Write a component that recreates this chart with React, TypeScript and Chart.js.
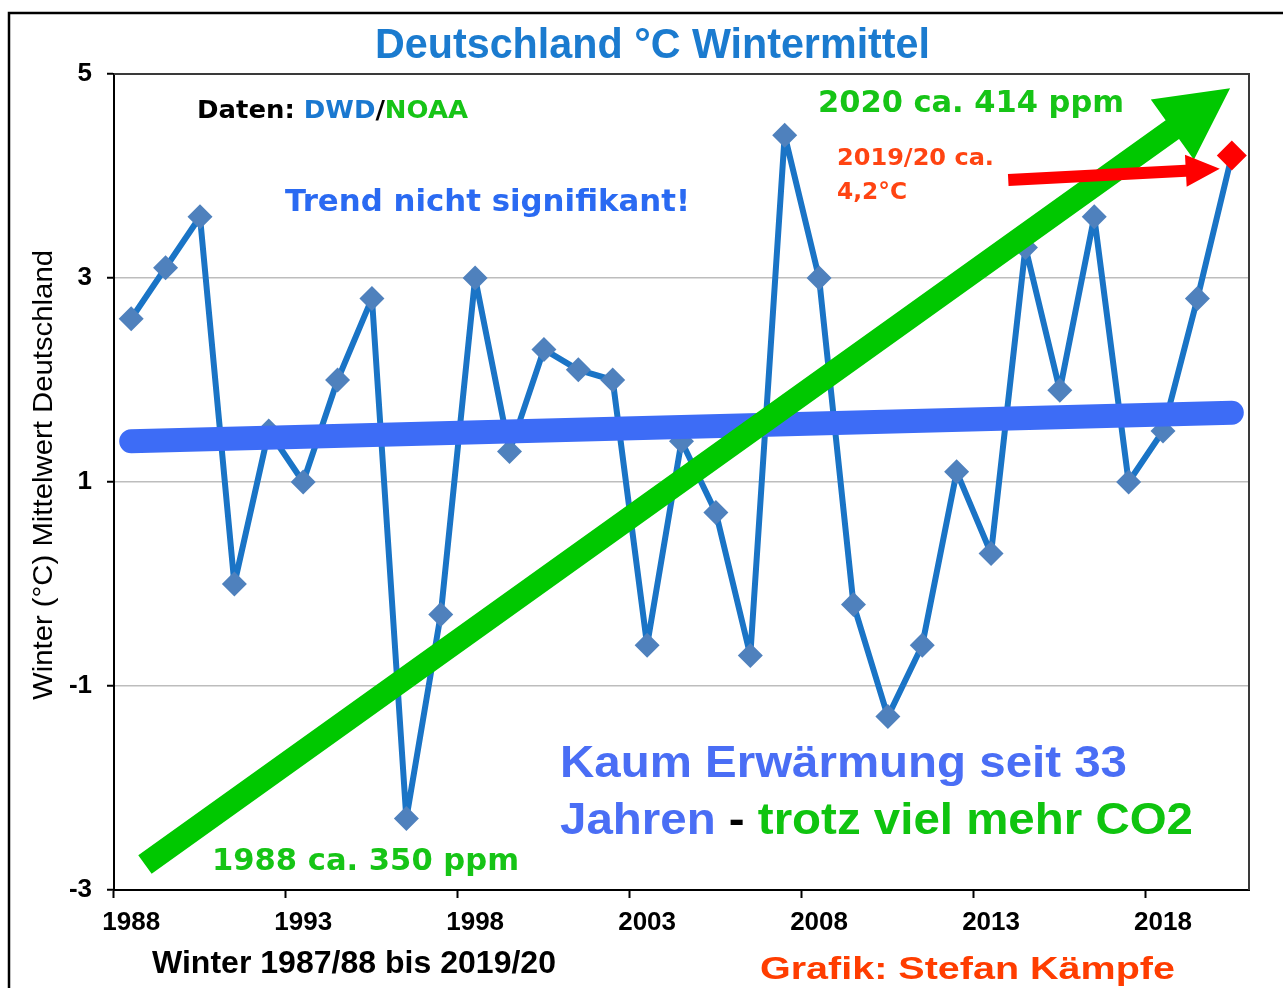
import React, { useEffect, useRef } from 'react';
import { Chart, registerables } from 'chart.js';

Chart.register(...registerables);

// ---------- data ----------
const years = [
  '1988', '1989', '1990', '1991', '1992', '1993', '1994', '1995', '1996', '1997',
  '1998', '1999', '2000', '2001', '2002', '2003', '2004', '2005', '2006', '2007',
  '2008', '2009', '2010', '2011', '2012', '2013', '2014', '2015', '2016', '2017',
  '2018', '2019', '2020',
];
const winterTemps = [
  2.6, 3.1, 3.6, 0.0, 1.5, 1.0, 2.0, 2.8, -2.3, -0.3,
  3.0, 1.3, 2.3, 2.1, 2.0, -0.6, 1.4, 0.7, -0.7, 4.4,
  3.0, -0.2, -1.3, -0.6, 1.1, 0.3, 3.3, 1.9, 3.6, 1.0,
  1.5, 2.8, 4.2,
];
const trendValues = [1.4, 1.68]; // linear trend at first and last winter
const yMin = -3;
const yMax = 5;
const yStep = 2;
const labelEvery = 5;

// annotation arrows in (category index, °C)
const co2Arrow = { from: [0.4, -2.75], to: [31.95, 4.86] };
const lastWinterArrow = { from: [25.5, 3.96], to: [31.65, 4.07] };

const FONT_WIDE = "'DejaVu Sans', 'Liberation Sans', Arial, sans-serif";
const FONT_ARIAL = "'Liberation Sans', Arial, sans-serif";

type Seg = [string, string];
type TextSpec = {
  segs: Seg[];
  x: number;
  y: number;
  w: number;
  font: string;
  rot?: boolean;
};

const BLUE_TITLE = '#1b7bcf';
const GREEN = '#16c416';
const ORANGE = '#ff4412';

const texts: TextSpec[] = [
  { segs: [['Deutschland °C Wintermittel', BLUE_TITLE]], x: 375, y: 58, w: 555, font: `bold 43px ${FONT_ARIAL}` },
  {
    segs: [['Daten: ', '#000'], ['DWD', '#1a78d0'], ['/', '#000'], ['NOAA', GREEN]],
    x: 197, y: 118, w: 271, font: `bold 25px ${FONT_WIDE}`,
  },
  { segs: [['Trend nicht signifikant!', '#2a6af2']], x: 285, y: 211, w: 405, font: `bold 30px ${FONT_WIDE}` },
  { segs: [['2020 ca. 414 ppm', GREEN]], x: 818, y: 112, w: 306, font: `bold 30px ${FONT_WIDE}` },
  { segs: [['2019/20 ca.', ORANGE]], x: 837, y: 165, w: 157, font: `bold 23px ${FONT_WIDE}` },
  { segs: [['4,2°C', ORANGE]], x: 837, y: 199, w: 70, font: `bold 23px ${FONT_WIDE}` },
  { segs: [['Kaum Erwärmung seit 33', '#4a6ef5']], x: 560, y: 777, w: 567, font: `bold 45px ${FONT_ARIAL}` },
  {
    segs: [['Jahren ', '#4a6ef5'], ['-', '#000'], [' trotz viel mehr CO2', '#0fc40f']],
    x: 560, y: 834, w: 633, font: `bold 45px ${FONT_ARIAL}`,
  },
  { segs: [['1988 ca. 350 ppm', GREEN]], x: 212, y: 870, w: 307, font: `bold 30px ${FONT_WIDE}` },
  { segs: [['Winter 1987/88 bis 2019/20', '#000']], x: 152, y: 973, w: 404, font: `bold 31px ${FONT_ARIAL}` },
  { segs: [['Grafik: Stefan Kämpfe', '#ff3d00']], x: 760, y: 979, w: 415, font: `bold 32px ${FONT_ARIAL}` },
  { segs: [['Winter (°C) Mittelwert Deutschland', '#000']], x: 52, y: 700, w: 450, font: `28px ${FONT_ARIAL}`, rot: true },
];

function drawFitted(ctx: CanvasRenderingContext2D, t: TextSpec) {
  ctx.save();
  ctx.font = t.font;
  ctx.textAlign = 'left';
  ctx.textBaseline = 'alphabetic';
  const total = t.segs.reduce((s, [txt]) => s + ctx.measureText(txt).width, 0);
  const sx = t.w / total;
  ctx.translate(t.x, t.y);
  if (t.rot) ctx.rotate(-Math.PI / 2);
  ctx.scale(sx, 1);
  let cx = 0;
  for (const [txt, col] of t.segs) {
    ctx.fillStyle = col;
    ctx.fillText(txt, cx, 0);
    cx += ctx.measureText(txt).width;
  }
  ctx.restore();
}

function drawArrow(
  ctx: CanvasRenderingContext2D,
  x1: number, y1: number, x2: number, y2: number,
  shaftW: number, headLen: number, headHalf: number, color: string,
) {
  const dx = x2 - x1;
  const dy = y2 - y1;
  const len = Math.hypot(dx, dy);
  const ux = dx / len;
  const uy = dy / len;
  const nx = -uy;
  const ny = ux;
  const bx = x2 - ux * headLen;
  const by = y2 - uy * headLen;
  const hs = shaftW / 2;
  ctx.save();
  ctx.fillStyle = color;
  ctx.beginPath();
  ctx.moveTo(x1 + nx * hs, y1 + ny * hs);
  ctx.lineTo(bx + nx * hs, by + ny * hs);
  ctx.lineTo(bx + nx * headHalf, by + ny * headHalf);
  ctx.lineTo(x2, y2);
  ctx.lineTo(bx - nx * headHalf, by - ny * headHalf);
  ctx.lineTo(bx - nx * hs, by - ny * hs);
  ctx.lineTo(x1 - nx * hs, y1 - ny * hs);
  ctx.closePath();
  ctx.fill();
  ctx.restore();
}

const framePlugin = {
  id: 'framePlugin',
  beforeDraw(chart: any) {
    const ctx = chart.ctx as CanvasRenderingContext2D;
    ctx.save();
    ctx.fillStyle = '#ffffff';
    ctx.fillRect(0, 0, chart.width, chart.height);
    ctx.strokeStyle = '#000';
    ctx.lineWidth = 2.5;
    ctx.beginPath();
    ctx.moveTo(9, chart.height + 5);
    ctx.lineTo(9, 13);
    ctx.lineTo(chart.width + 5, 13);
    ctx.stroke();
    ctx.restore();
  },
  beforeDatasetsDraw(chart: any) {
    const { ctx, chartArea } = chart;
    ctx.save();
    ctx.strokeStyle = '#3a3a3a';
    ctx.lineWidth = 2;
    ctx.beginPath();
    ctx.moveTo(chartArea.left, chartArea.top);
    ctx.lineTo(chartArea.right, chartArea.top);
    ctx.lineTo(chartArea.right, chartArea.bottom);
    ctx.stroke();
    ctx.restore();
  },
  afterDatasetDraw(chart: any, args: any) {
    if (args.index !== 1) return;
    const ctx = chart.ctx as CanvasRenderingContext2D;
    const xs = chart.scales.x;
    const ys = chart.scales.y;
    const p = (pt: number[]) => [xs.getPixelForValue(pt[0]), ys.getPixelForValue(pt[1])];
    const [gx1, gy1] = p(co2Arrow.from);
    const [gx2, gy2] = p(co2Arrow.to);
    drawArrow(ctx, gx1, gy1, gx2, gy2, 23, 71, 37, '#00c800');
    const [rx1, ry1] = p(lastWinterArrow.from);
    const [rx2, ry2] = p(lastWinterArrow.to);
    drawArrow(ctx, rx1, ry1, rx2, ry2, 12, 34, 16, '#ff0000');
  },
  afterDraw(chart: any) {
    const ctx = chart.ctx as CanvasRenderingContext2D;
    for (const t of texts) drawFitted(ctx, t);
  },
};

export default function App() {
  const canvasRef = useRef<HTMLCanvasElement | null>(null);

  useEffect(() => {
    const canvas = canvasRef.current;
    if (!canvas) return;
    const last = winterTemps.length - 1;
    const highlight = winterTemps.map((v, i) => (i === last ? v : null));
    const trend = winterTemps.map((_, i) => (i === 0 ? trendValues[0] : i === last ? trendValues[1] : null));

    const chart = new Chart(canvas, {
      type: 'line',
      data: {
        labels: years,
        datasets: [
          {
            label: '2019/20',
            data: highlight,
            order: 0,
            showLine: false,
            pointStyle: 'rectRot',
            pointRadius: 15,
            pointBackgroundColor: '#ff0000',
            pointBorderColor: '#ff0000',
            pointBorderWidth: 0,
          },
          {
            label: 'Trend',
            data: trend,
            order: 1,
            spanGaps: true,
            borderColor: '#3d6cf6',
            borderWidth: 24,
            borderCapStyle: 'round',
            pointRadius: 0,
          },
          {
            label: 'Wintermittel',
            data: winterTemps,
            order: 2,
            borderColor: '#1a74c6',
            borderWidth: 6,
            borderJoinStyle: 'round',
            tension: 0,
            pointStyle: 'rectRot',
            pointRadius: (c: any) => (c.dataIndex === last ? 0 : 12.5),
            pointBackgroundColor: '#4f81bd',
            pointBorderColor: '#4f81bd',
            pointBorderWidth: 0,
          },
        ],
      },
      options: {
        animation: false,
        responsive: false,
        events: [],
        layout: { padding: { top: 74, right: 34, left: 0, bottom: 0 } },
        plugins: {
          legend: { display: false },
          title: { display: false },
          tooltip: { enabled: false },
        },
        scales: {
          x: {
            type: 'category',
            offset: true,
            afterFit: (s: any) => { s.height = 98; },
            border: { display: true, color: '#000', width: 2 },
            grid: {
              offset: true,
              drawOnChartArea: false,
              drawTicks: true,
              tickLength: 8,
              tickWidth: 2,
              tickColor: (c: any) => (typeof c.index === 'number' && c.index % labelEvery === 0 ? '#000' : 'rgba(0,0,0,0)'),
              color: 'rgba(0,0,0,0)',
            },
            ticks: {
              autoSkip: false,
              maxRotation: 0,
              minRotation: 0,
              padding: 9,
              color: '#000',
              font: { family: FONT_ARIAL, size: 26, weight: 'bold' },
              callback: (_v: any, i: number) => (i % labelEvery === 0 ? years[i] : ''),
            },
          },
          y: {
            min: yMin,
            max: yMax,
            afterFit: (s: any) => { s.width = 114; },
            border: { display: true, color: '#000', width: 2 },
            grid: {
              color: (c: any) => (c.tick && (c.tick.value === yMin || c.tick.value === yMax) ? 'rgba(0,0,0,0)' : '#bdbdbd'),
              lineWidth: 1.5,
              drawTicks: true,
              tickLength: 7,
              tickWidth: 2,
              tickColor: '#000',
            },
            ticks: {
              stepSize: yStep,
              padding: 15,
              color: '#000',
              font: { family: FONT_ARIAL, size: 26, weight: 'bold' },
            },
          },
        },
      },
      plugins: [framePlugin],
    } as any);

    return () => chart.destroy();
  }, []);

  return (
    <div style={{ position: 'absolute', left: 0, top: 0, width: 1283, height: 988 }}>
      <canvas ref={canvasRef} width={1283} height={988} />
    </div>
  );
}
